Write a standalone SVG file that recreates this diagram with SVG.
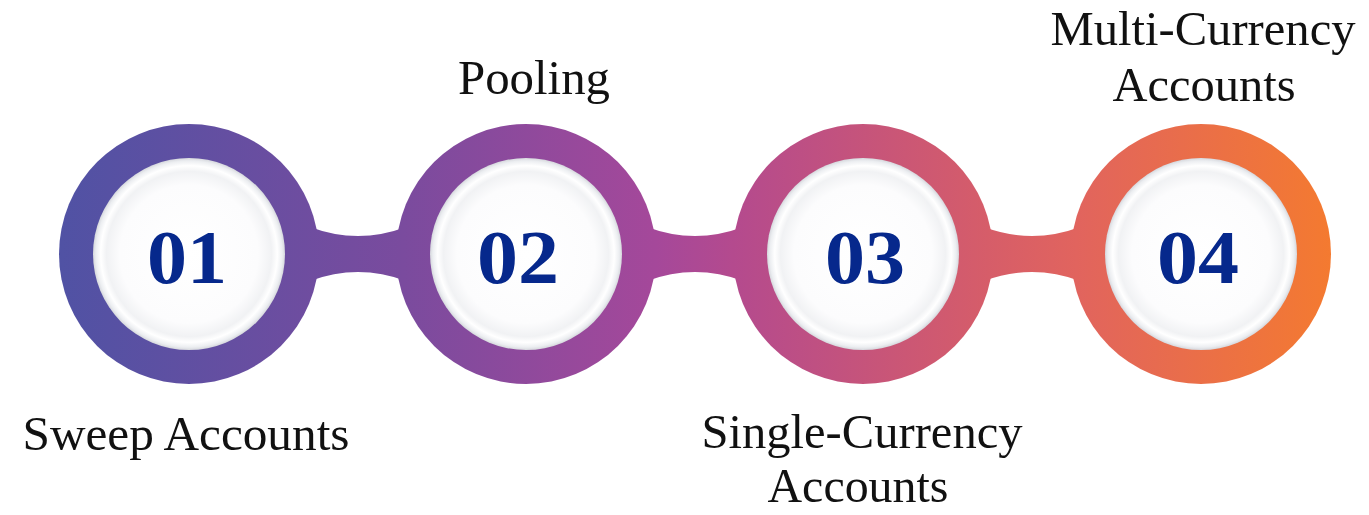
<svg xmlns="http://www.w3.org/2000/svg" width="1369" height="515" viewBox="0 0 1369 515">
<style>
.ring{fill:url(#band)}
.bar{fill:url(#band)}
.face{fill:url(#face)}
.num{font-family:"Liberation Serif","Times New Roman",serif;font-weight:bold;font-size:77px;fill:#06288c;text-anchor:middle}
.lbl{font-family:"Liberation Serif","Times New Roman",serif;font-size:49px;fill:#111111;text-anchor:middle}
</style>
<defs>
<linearGradient id="band" gradientUnits="userSpaceOnUse" x1="59" y1="0" x2="1331" y2="0">
<stop offset="0" stop-color="#5052a4"/>
<stop offset="0.27" stop-color="#7a4b9e"/>
<stop offset="0.47" stop-color="#a5489a"/>
<stop offset="0.53" stop-color="#b44a8e"/>
<stop offset="0.73" stop-color="#d65d69"/>
<stop offset="0.80" stop-color="#e1645e"/>
<stop offset="1" stop-color="#f47a30"/>
</linearGradient>
<radialGradient id="face" cx="0.5" cy="0.5" r="0.5">
<stop offset="0" stop-color="#ffffff"/>
<stop offset="0.72" stop-color="#fcfcfd"/>
<stop offset="0.86" stop-color="#f1f2f4"/>
<stop offset="0.92" stop-color="#ffffff"/>
<stop offset="0.97" stop-color="#eceef1"/>
<stop offset="1" stop-color="#d6d8dd"/>
</radialGradient>
</defs>
<g id="connectors">
<path class="bar" d="M310 227 Q358 245 406 227 L406 281 Q358 263 310 281 Z"/>
<path class="bar" d="M647 227 Q695 245 743 227 L743 281 Q695 263 647 281 Z"/>
<path class="bar" d="M984 227 Q1032 245 1080 227 L1080 281 Q1032 263 984 281 Z"/>
</g>
<g id="node01">
<circle class="ring" cx="189" cy="254" r="130"/>
<circle class="face" cx="189" cy="254" r="96"/>
<text class="num" x="187" y="283" textLength="80" lengthAdjust="spacingAndGlyphs">01</text>
<text class="lbl" x="186" y="450" textLength="327" lengthAdjust="spacingAndGlyphs">Sweep Accounts</text>
</g>
<g id="node02">
<circle class="ring" cx="526" cy="254" r="130"/>
<circle class="face" cx="526" cy="254" r="96"/>
<text class="num" x="518" y="283" textLength="82" lengthAdjust="spacingAndGlyphs">02</text>
<text class="lbl" x="534" y="94" textLength="152" lengthAdjust="spacingAndGlyphs">Pooling</text>
</g>
<g id="node03">
<circle class="ring" cx="863" cy="254" r="130"/>
<circle class="face" cx="863" cy="254" r="96"/>
<text class="num" x="865" y="283" textLength="80" lengthAdjust="spacingAndGlyphs">03</text>
<text class="lbl" x="862" y="448" textLength="321" lengthAdjust="spacingAndGlyphs">Single-Currency</text>
<text class="lbl" x="858" y="502" textLength="181" lengthAdjust="spacingAndGlyphs">Accounts</text>
</g>
<g id="node04">
<circle class="ring" cx="1201" cy="254" r="130"/>
<circle class="face" cx="1201" cy="254" r="96"/>
<text class="num" x="1198" y="283" textLength="82" lengthAdjust="spacingAndGlyphs">04</text>
<text class="lbl" x="1203" y="45" textLength="305" lengthAdjust="spacingAndGlyphs">Multi-Currency</text>
<text class="lbl" x="1204" y="101" textLength="183" lengthAdjust="spacingAndGlyphs">Accounts</text>
</g>
</svg>
